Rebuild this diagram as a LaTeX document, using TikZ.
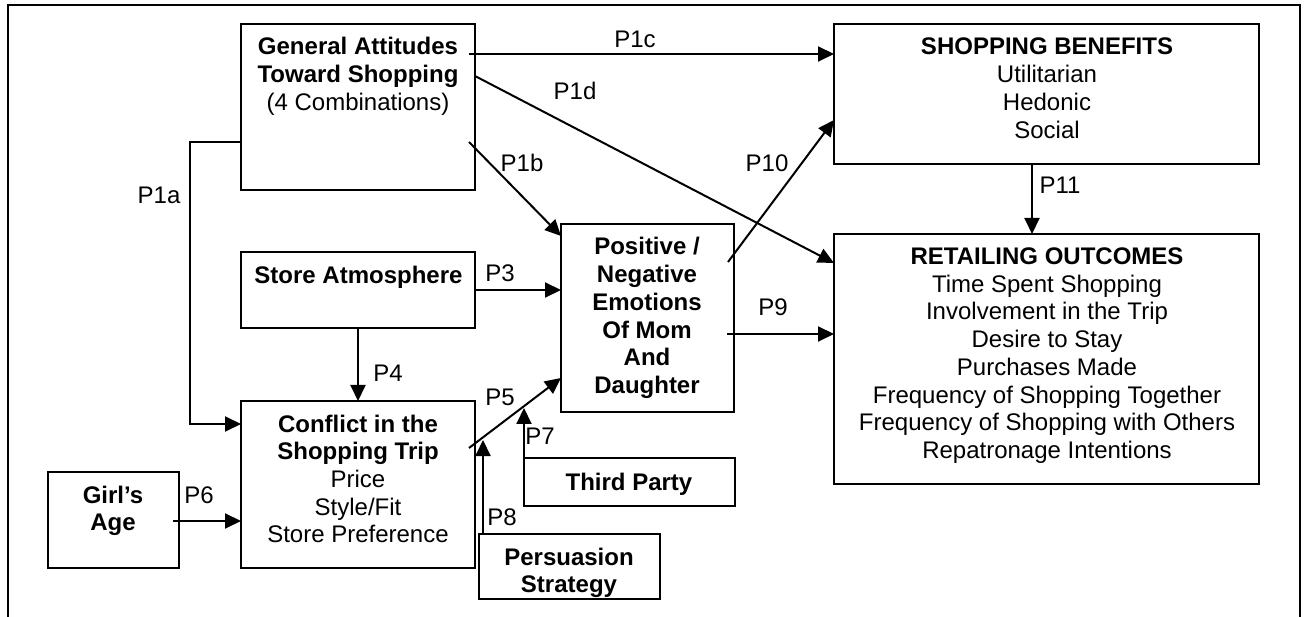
\documentclass[tikz,border=0pt]{standalone}
\usepackage{fontspec}
\setmainfont{Liberation Sans}
\usetikzlibrary{arrows.meta,calc}

\begin{document}
\begin{tikzpicture}[x=1pt,y=-1pt,
  box/.style={draw, line width=2pt, inner sep=0pt, outer sep=0pt},
  txt/.style={anchor=base, align=center, inner sep=0pt,
    font={\fontsize{24}{27.7}\selectfont}},
  plabel/.style={anchor=base, inner sep=0pt,
    font={\fontsize{24}{27.7}\selectfont}},
  link/.style={line width=2pt},
  arr/.style={link, -{Triangle[length=16pt,width=15pt]}},
  frame/.style={line width=2pt},
]
\useasboundingbox (0,0) rectangle (1304,617);

% outer frame, open at the bottom
\draw[frame] (8,617) -- (8,5) -- (1300,5) -- (1300,617);

% boxes
\node[box, minimum width=234pt, minimum height=166pt] (att)      at (358,107)    {};
\node[box, minimum width=234pt, minimum height=76pt]  (store)    at (358,290)    {};
\node[box, minimum width=234pt, minimum height=167pt] (conflict) at (358,484.5)  {};
\node[box, minimum width=131pt, minimum height=96pt]  (girl)     at (113.5,520)  {};
\node[box, minimum width=173pt, minimum height=188pt] (pos)      at (647.5,318)  {};
\node[box, minimum width=211pt, minimum height=48pt]  (third)    at (629.5,482)  {};
\node[box, minimum width=181pt, minimum height=65pt]  (pers)     at (569.5,566.5){};
\node[box, minimum width=425pt, minimum height=140pt] (sb)       at (1046.5,94)  {};
\node[box, minimum width=425pt, minimum height=250pt] (ro)       at (1046.5,359) {};

% box texts (a multi-line node sits on the baseline of its last line)
\node[txt] (att-t) at (358,110.4) {\textbf{General Attitudes}\\\textbf{Toward Shopping}\\(4 Combinations)};
\node[txt] (store-t) at (358.5,284) {\textbf{Store Atmosphere}};
\node[txt] (conflict-t) at (358,542.8) {\textbf{Conflict in the}\\\textbf{Shopping Trip}\\Price\\Style/Fit\\Store Preference};
\node[txt] (girl-t) at (113,530.7) {\textbf{Girl’s}\\\textbf{Age}};
\node[txt] (pos-t) at (647,393.5) {\bfseries Positive /\\\bfseries Negative\\\bfseries Emotions\\\bfseries Of Mom\\\bfseries And\\\bfseries Daughter};
\node[txt] (third-t) at (629,490) {\textbf{Third Party}};
\node[txt] (pers-t) at (569,592.7) {\textbf{Persuasion}\\\textbf{Strategy}};
\node[txt] (sb-t) at (1047,138.1) {\textbf{SHOPPING BENEFITS}\\Utilitarian\\Hedonic\\Social};
\node[txt] (ro-t) at (1047,458.4) {\textbf{RETAILING OUTCOMES}\\Time Spent Shopping\\Involvement in the Trip\\Desire to Stay\\Purchases Made\\Frequency of Shopping Together\\Frequency of Shopping with Others\\Repatronage Intentions};

% connector end points
\coordinate (p1c-s) at (469,54);
\coordinate (p1d-s) at (475,76);
\coordinate (p1d-e) at (834,263);
\coordinate (p1b-s) at (469,142);
\coordinate (p1b-e) at (561,236);
\coordinate (p10-s) at (728,262);
\coordinate (p10-e) at (834,120);
\coordinate (p1a-s) at (241,142);
\coordinate (p1a-b1) at (190,142);
\coordinate (p1a-b2) at (190,424);
\coordinate (p9-s) at (727,334);
\coordinate (p6-s) at (173,521);
\coordinate (p5-s) at (469,448);
\coordinate (p5-e) at (561,378);
\coordinate (p7-e) at (524,408);
\coordinate (p8-s) at (483,534);
\coordinate (p8-e) at (483,440);

% connectors
\draw[arr] (p1c-s) -- (p1c-s -| sb.west);
\draw[arr] (p1d-s) -- (p1d-e);
\draw[arr] (p1b-s) -- (p1b-e);
\draw[arr] (p10-s) -- (p10-e);
\draw[arr] ($(sb.south)+(-14.5,0)$) -- ($(ro.north)+(-14.5,0)$);
\draw[arr] (p1a-s) -- (p1a-b1) -- (p1a-b2) -- (p1a-b2 -| conflict.west);
\draw[arr] (store.east) -- (store.east -| pos.west);
\draw[arr] (store.south) -- (conflict.north);
\draw[arr] (p9-s) -- (p9-s -| ro.west);
\draw[arr] (p6-s) -- (p6-s -| conflict.west);
\draw[arr] (p5-s) -- (p5-e);
\draw[arr] (third.north west) -- (p7-e);
\draw[arr] (p8-s) -- (p8-e);

% path labels
\node[plabel] (l-p1c) at (635,48)  {P1c};
\node[plabel] (l-p1d) at (575,100) {P1d};
\node[plabel] (l-p1b) at (522,172) {P1b};
\node[plabel] (l-p10) at (767,172) {P10};
\node[plabel] (l-p11) at (1060,194){P11};
\node[plabel] (l-p1a) at (159,204) {P1a};
\node[plabel] (l-p3)  at (500,282) {P3};
\node[plabel] (l-p4)  at (388,382) {P4};
\node[plabel] (l-p9)  at (773,316) {P9};
\node[plabel] (l-p6)  at (199,503) {P6};
\node[plabel] (l-p5)  at (500,406) {P5};
\node[plabel] (l-p7)  at (540,445) {P7};
\node[plabel] (l-p8)  at (502,525) {P8};
\end{tikzpicture}
\end{document}
